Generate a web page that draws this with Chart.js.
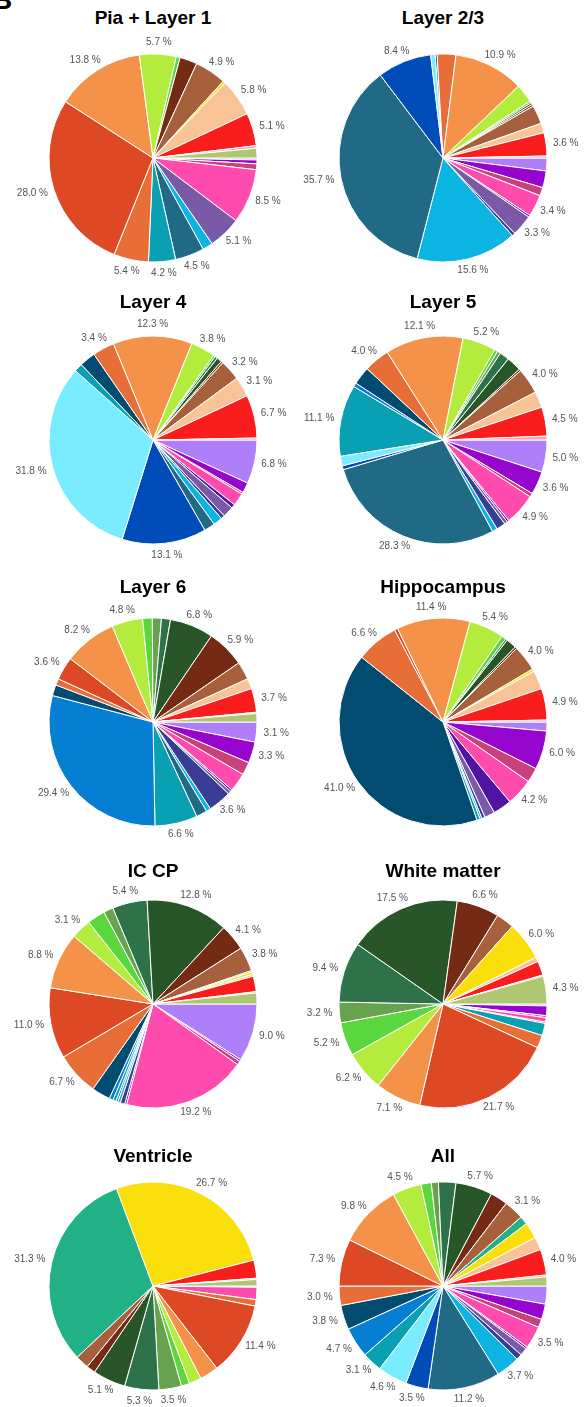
<!DOCTYPE html>
<html>
<head>
<meta charset="utf-8">
<script src="https://cdn.jsdelivr.net/npm/chart.js@4.4.1/dist/chart.umd.min.js"></script>
<style>
  html, body { margin: 0; padding: 0; background: #fff; }
  body { width: 587px; height: 1407px; position: relative; overflow: hidden;
         font-family: "Liberation Sans", Arial, sans-serif; }
  .panel-letter { position: absolute; left: -8px; top: -14px; font-size: 28px; line-height: 28px;
                  font-weight: bold; color: #000; }
  .title { position: absolute; width: 290px; text-align: center; font-size: 19px; line-height: 22px;
           font-weight: bold; color: #000; white-space: nowrap; }
  .pie { position: absolute; width: 290px; height: 290px; }
</style>
</head>
<body>
<div class="panel-letter">B</div>
<script>
// Cell-type categories, in drawing order (clockwise from 3 o'clock)
const cellTypes = [
  'c01', 'c02', 'c03', 'c04', 'c05', 'c06', 'c07', 'c08', 'c09', 'c10',
  'c11', 'c12', 'c13', 'c14', 'c15', 'c16', 'c17', 'c18', 'c19', 'c20',
  'c21', 'c22', 'c23', 'c24', 'c25', 'c26', 'c27', 'c28', 'c29', 'c30'
];

const regionTitles = [
  'Pia + Layer 1', 'Layer 2/3', 'Layer 4', 'Layer 5', 'Layer 6',
  'Hippocampus', 'IC CP', 'White matter', 'Ventricle', 'All'
];

// Percentage of each cell type per region (same order as cellTypes)
const piaLayer1 = [0.3, 0.6, 0.9, 8.5, 0, 5.1, 0, 1.6, 4.5, 0,
                   0, 4.2, 0, 0, 5.4, 28.0, 13.8, 5.7, 0.6, 0,
                   0, 0, 2.7, 4.9, 0, 0.4, 5.8, 5.1, 0.4, 1.5];
const layer23 = [2.0, 2.6, 1.3, 3.4, 0.3, 3.3, 0.5, 15.6, 35.7, 8.4,
                 0.7, 0, 0, 0.3, 2.9, 0, 10.9, 2.9, 0.3, 0,
                 0, 0.3, 0.3, 2.9, 0, 0, 1.5, 3.6, 0.3, 0];
const layer4 = [6.8, 1.6, 0.3, 2.0, 0.6, 1.7, 0.6, 1.4, 1.7, 13.1,
                31.8, 1.3, 0, 2.5, 3.4, 0, 12.3, 3.8, 0.3, 0,
                0.4, 0.8, 0.3, 3.2, 0, 0, 3.1, 6.7, 0.3, 0];
const layer5 = [5.0, 3.6, 0.6, 4.9, 0.3, 0.5, 1.4, 0.8, 28.3, 0.6,
                1.5, 11.1, 0.6, 2.8, 4.0, 0, 12.1, 5.2, 0.5, 0.5,
                1.5, 2.3, 0.3, 4.0, 0, 0, 2.5, 4.5, 0.6, 0];
const layer6 = [3.1, 3.3, 2.0, 2.9, 0.3, 0.5, 3.6, 0.7, 1.7, 0,
                0, 6.6, 29.4, 1.7, 1.0, 3.6, 8.2, 4.8, 1.5, 1.4,
                1.4, 6.8, 5.9, 2.8, 0, 0, 1.6, 3.7, 0.2, 1.3];
const hippocampus = [1.4, 6.0, 2.3, 4.2, 2.9, 1.6, 0.5, 0.3, 0, 0,
                     0, 0.5, 0, 41.0, 6.6, 0.5, 11.4, 5.4, 0.7, 0,
                     0.3, 1.6, 0.3, 4.0, 0, 0.4, 2.9, 4.9, 0.3, 0];
const icCp = [9.0, 0.3, 0.6, 19.2, 0.3, 0, 0.7, 0.4, 0.3, 0,
              0, 0.5, 0.6, 2.9, 6.7, 11.0, 8.8, 3.1, 2.8, 1.5,
              5.4, 12.8, 4.1, 3.8, 0.2, 0.4, 0.3, 2.4, 0.2, 1.7];
const whiteMatter = [0.3, 1.5, 0.3, 0.7, 0.2, 0, 0, 0, 0, 0,
                     0, 1.9, 0, 0, 2.0, 21.7, 7.1, 6.2, 5.2, 3.2,
                     9.4, 17.5, 6.6, 2.8, 0, 6.0, 0.7, 2.2, 0.2, 4.3];
const ventricle = [0.2, 0, 0, 1.9, 0, 0, 0, 0, 0, 0,
                   0, 0, 0, 0, 1.0, 11.4, 2.9, 1.9, 1.3, 3.5,
                   5.3, 5.1, 1.4, 2.1, 31.3, 26.7, 0, 2.8, 0.2, 1.0];
const allRegions = [2.8, 2.4, 1.3, 3.5, 0.3, 1.2, 0.9, 3.7, 11.2, 3.5,
                    4.6, 3.1, 4.7, 3.8, 3.0, 7.3, 9.8, 4.5, 1.6, 1.1,
                    2.7, 5.7, 2.7, 3.1, 1.3, 2.5, 2.0, 4.0, 0.3, 1.4];

const regionValues = [piaLayer1, layer23, layer4, layer5, layer6,
                      hippocampus, icCp, whiteMatter, ventricle, allRegions];

// Slice colours, one per cell type
const sliceColors = [
  '#AF7FF9', '#9605CE', '#C9407A', '#FF4AAE', '#5013A3', '#7A5AA6', '#3A3D94', '#0CB5E1',
  '#206A86', '#004CB8', '#7BEBFF', '#0AA0B4', '#067ED1', '#014C70', '#E86E38', '#DE4925',
  '#F5924A', '#B3EC3C', '#5BD63E', '#67A24E', '#2E7249', '#285629', '#752A14', '#A6613C',
  '#22B087', '#FADF0C', '#F8C495', '#F91D1E', '#F6A3B5', '#B0C772'
];

// Grid layout: pie centres and title lines
const colCenters = [153, 443];
const rowCenters = [157.5, 439.5, 721.7, 1004, 1285.5];
const titleCenters = [17.3, 301.5, 586.5, 871, 1155.5];
const pieRadius = 104;
const labelMin = 3.0;

// Percentage labels just outside each slice of at least labelMin
const outsideLabels = {
  id: 'outsideLabels',
  afterDatasetsDraw(chart) {
    const ctx = chart.ctx;
    const meta = chart.getDatasetMeta(0);
    const values = chart.data.datasets[0].data;
    ctx.save();
    ctx.font = '10px "Liberation Sans", Arial, sans-serif';
    ctx.fillStyle = '#555555';
    ctx.textAlign = 'center';
    ctx.textBaseline = 'middle';
    meta.data.forEach((arc, i) => {
      const v = values[i];
      if (!(v >= labelMin)) return;
      const p = arc.getProps(['x', 'y', 'startAngle', 'endAngle', 'outerRadius'], true);
      const mid = (p.startAngle + p.endAngle) / 2;
      const text = v.toFixed(1) + ' %';
      const hw = ctx.measureText(text).width / 2;
      const c = Math.cos(mid), s = Math.sin(mid);
      const d = p.outerRadius + 7;
      ctx.fillText(text, p.x + c * d + hw * c, p.y + s * d + 4.5 * s);
    });
    ctx.restore();
  }
};

regionTitles.forEach((title, k) => {
  const col = k % 2, row = Math.floor(k / 2);
  const cx = colCenters[col], cy = rowCenters[row];

  const t = document.createElement('div');
  t.className = 'title';
  t.textContent = title;
  t.style.left = (cx - 145) + 'px';
  t.style.top = (titleCenters[row] - 10.8) + 'px';
  document.body.appendChild(t);

  const box = document.createElement('div');
  box.className = 'pie';
  box.style.left = (cx - 145) + 'px';
  box.style.top = (cy - 145) + 'px';
  const canvas = document.createElement('canvas');
  canvas.width = 290;
  canvas.height = 290;
  box.appendChild(canvas);
  document.body.appendChild(box);

  new Chart(canvas, {
    type: 'pie',
    data: {
      labels: cellTypes,
      datasets: [{
        data: regionValues[k],
        backgroundColor: sliceColors,
        borderColor: '#ffffff',
        borderWidth: 1
      }]
    },
    options: {
      responsive: false,
      animation: false,
      devicePixelRatio: 1,
      rotation: 90,
      radius: pieRadius,
      layout: { padding: 0 },
      plugins: {
        legend: { display: false },
        tooltip: { enabled: false },
        title: { display: false }
      }
    },
    plugins: [outsideLabels]
  });
});
</script>
</body>
</html>
